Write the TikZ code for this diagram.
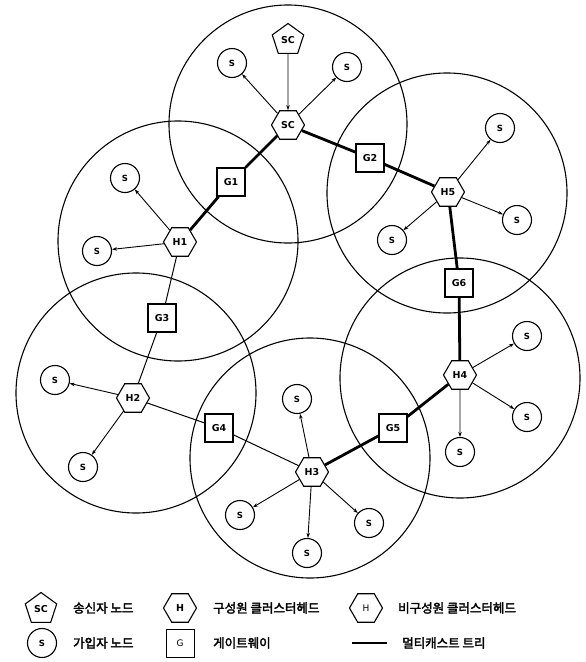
\documentclass[tikz,border=0pt]{standalone}
\usepackage{fontspec}
\newfontfamily\krb{Noto Sans CJK KR}[FakeBold=2.5]
\newfontfamily\lab{DejaVu Sans}
\usetikzlibrary{shapes.geometric,arrows.meta}
\begin{document}
\begin{tikzpicture}[x=1pt,y=-1pt,
  lbl/.style={font=\lab\bfseries\fontsize{9.5}{10}\selectfont},
  clusterline/.style={line width=1.1pt},
  snode/.style={circle,draw,fill=white,line width=1.1pt,minimum size=29pt,inner sep=0pt,font=\lab\bfseries\fontsize{8.5}{9}\selectfont},
  gw/.style={rectangle,draw,fill=white,line width=1.1pt,minimum size=28pt,inner sep=0pt,lbl},
  hd/.style={regular polygon,regular polygon sides=6,draw,fill=white,line width=1.1pt,minimum size=33pt,inner sep=0pt,lbl},
  mhd/.style={hd,path picture={\foreach \a/\b in {-9/-8,6/-9,-11/5,10/4,-2/10,4/10} \fill ([shift={(\a,\b)}]path picture bounding box.center) circle (0.8pt);}},
  sender/.style={regular polygon,regular polygon sides=5,draw,fill=white,line width=1.1pt,minimum size=33pt,inner sep=0pt,lbl},
  arr/.style={-{Stealth[length=5pt,width=3.5pt]},line width=0.9pt},
  thinline/.style={line width=1pt},
  tree/.style={line width=2.8pt},
  legtxt/.style={anchor=west,inner sep=0pt,font=\krb\fontsize{12.5}{13}\selectfont}
]
\useasboundingbox (0,0) rectangle (586,662);
% cluster ranges
\draw[clusterline] (288,124) circle (119pt);
\draw[clusterline] (447,193) circle (120pt);
\draw[clusterline] (178,241) circle (120pt);
\draw[clusterline] (460,378) circle (120pt);
\draw[clusterline] (136,393) circle (120pt);
\draw[clusterline] (310,458) circle (120pt);

% nodes
\node[sender] (src) at (288,40) {SC};
\node[mhd] (sc) at (288,125) {SC};
\node[snode] (s1) at (232,63) {S};
\node[snode] (s2) at (347,67) {S};
\node[gw] (g1) at (231,182) {G1};
\node[gw] (g2) at (370,158) {G2};
\node[mhd] (h5) at (448,192) {H5};
\node[snode] (s3) at (500,128) {S};
\node[snode] (s4) at (517,220) {S};
\node[snode] (s5) at (392,240) {S};
\node[gw] (g6) at (459,283) {G6};
\node[mhd] (h4) at (460,375) {H4};
\node[snode] (s6) at (527,336) {S};
\node[snode] (s7) at (527,417) {S};
\node[snode] (s8) at (460,452) {S};
\node[gw] (g5) at (393,428) {G5};
\node[mhd] (h3) at (312,472) {H3};
\node[snode] (s9) at (297,399) {S};
\node[snode] (s10) at (240,515) {S};
\node[snode] (s11) at (369,523) {S};
\node[snode] (s12) at (307,553) {S};
\node[gw] (g4) at (219,428) {G4};
\node[hd] (h2) at (133,398) {H2};
\node[snode] (s13) at (55,380) {S};
\node[snode] (s14) at (83,467) {S};
\node[gw] (g3) at (162,318) {G3};
\node[mhd] (h1) at (180,242) {H1};
\node[snode] (s15) at (125,178) {S};
\node[snode] (s16) at (97,251) {S};

% connectors
\draw[arr] (src) -- (sc);
\draw[arr] (sc) -- (s1);
\draw[arr] (sc) -- (s2);
\draw[tree] (sc) -- (g1);
\draw[tree] (g1) -- (h1);
\draw[tree] (sc) -- (g2);
\draw[tree] (g2) -- (h5);
\draw[arr] (h5) -- (s3);
\draw[arr] (h5) -- (s4);
\draw[arr] (h5) -- (s5);
\draw[tree] (h5) -- (g6);
\draw[tree] (g6) -- (h4);
\draw[arr] (h4) -- (s6);
\draw[arr] (h4) -- (s7);
\draw[arr] (h4) -- (s8);
\draw[tree] (h4) -- (g5);
\draw[tree] (g5) -- (h3);
\draw[arr] (h3) -- (s9);
\draw[arr] (h3) -- (s10);
\draw[arr] (h3) -- (s11);
\draw[arr] (h3) -- (s12);
\draw[thinline] (h3) -- (g4);
\draw[thinline] (g4) -- (h2);
\draw[arr] (h2) -- (s13);
\draw[arr] (h2) -- (s14);
\draw[thinline] (h2) -- (g3);
\draw[thinline] (g3) -- (h1);
\draw[arr] (h1) -- (s15);
\draw[arr] (h1) -- (s16);

% legend
\node[sender] (lsc) at (41,609) {SC};
\node[legtxt] (t1) at (73,608) {송신자 노드};
\node[mhd] (lmh) at (180,608) {H};
\node[legtxt] (t2) at (213,608) {구성원 클러스터헤드};
\node[hd,font=\lab\fontsize{9}{10}\selectfont] (lh) at (366,608) {H};
\node[legtxt] (t3) at (398,608) {비구성원 클러스터헤드};
\node[snode] (ls) at (42,643) {S};
\node[legtxt] (t4) at (73,643) {가입자 노드};
\node[gw,line width=1pt,font=\lab\fontsize{9}{10}\selectfont] (lg) at (180,643) {G};
\node[legtxt] (t5) at (213,643) {게이트웨이};
\coordinate (la) at (352,643);
\coordinate (lb) at (387,643);
\draw[tree] (la) -- (lb);
\node[legtxt] (t6) at (402,643) {멀티캐스트 트리};
\end{tikzpicture}
\end{document}
